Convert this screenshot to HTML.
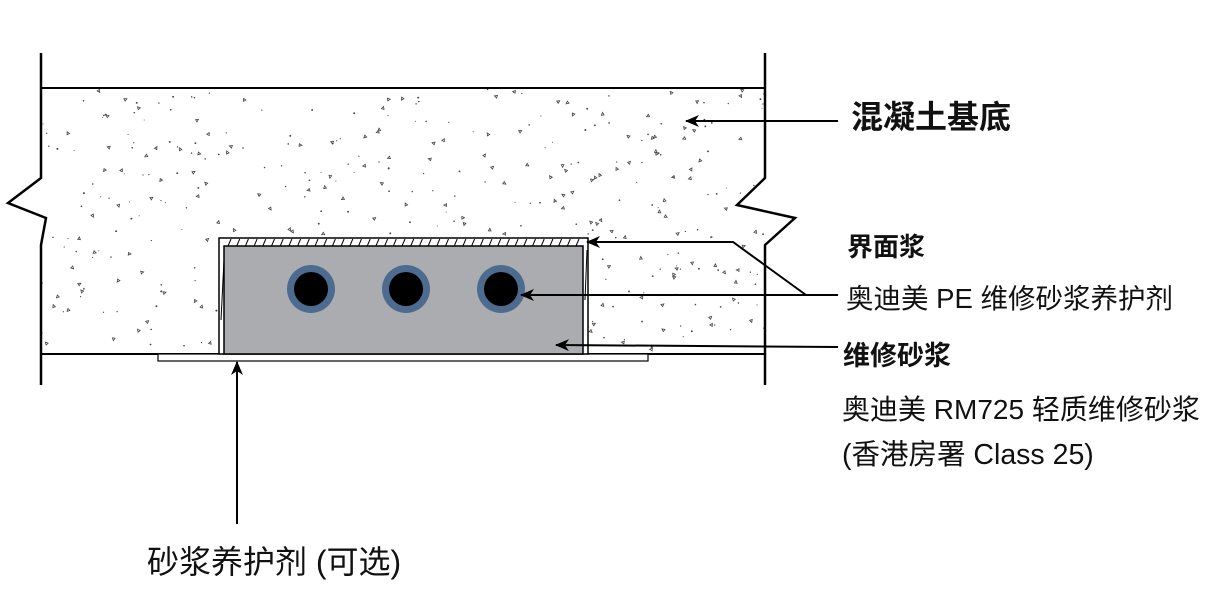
<!DOCTYPE html>
<html><head><meta charset="utf-8"><style>
body{margin:0;background:#fff;width:1222px;height:589px;overflow:hidden}
svg{position:absolute;left:0;top:0}
.t{position:absolute;font-family:"Liberation Sans","Noto Sans CJK SC",sans-serif;color:#111;white-space:nowrap;line-height:1}
.b{font-weight:bold}
</style></head><body>
<svg width="1222" height="589" id="s">
<defs><marker id="a" markerWidth="14" markerHeight="12" refX="13" refY="6" orient="auto" markerUnits="userSpaceOnUse"><path d="M0,0 L14,6 L0,12 L4,6Z" fill="#000"/></marker>
<clipPath id="c"><path d="M41,88 H765 V178 L737,205 L795,218 L765,245 V354 H588 V238 H219 V354 H41 V245 L46,218 L8,203 L41,178Z"/></clipPath></defs>
<g id="dots" clip-path="url(#c)"></g>
<path d="M41,53 V178 L8,203 L46,218 L41,245 V385" fill="none" stroke="#000" stroke-width="2.5"/>
<path d="M765,53 V178 L737,205 L795,218 L765,245 V385" fill="none" stroke="#000" stroke-width="2.5"/>
<line x1="41" y1="88" x2="765" y2="88" stroke="#000" stroke-width="2"/>
<line x1="41" y1="354" x2="765" y2="354" stroke="#000" stroke-width="2"/>
<rect x="158" y="354" width="490" height="7" fill="#fff" stroke="#000" stroke-width="1.2"/>
<rect x="219" y="238" width="369" height="116" fill="#fff" stroke="#000" stroke-width="1.5"/>
<g id="h" stroke="#000" stroke-width="1"></g>
<rect x="224" y="246" width="359" height="108" fill="#abacaf" stroke="#000" stroke-width="1.5"/>
<g fill="#4d6b8f"><circle cx="311" cy="289" r="24"/><circle cx="406" cy="289" r="24"/><circle cx="501" cy="289" r="24"/></g>
<g fill="#000"><circle cx="311" cy="289" r="17"/><circle cx="406" cy="289" r="17"/><circle cx="501" cy="289" r="17"/></g>
<g stroke="#000" stroke-width="2" fill="none">
<line x1="838" y1="121" x2="686" y2="121" marker-end="url(#a)"/>
<polyline points="806,295 733,242 587,242" marker-end="url(#a)"/>
<line x1="838" y1="295" x2="521" y2="295" marker-end="url(#a)"/>
<line x1="838" y1="347" x2="556" y2="345" marker-end="url(#a)"/>
<line x1="237" y1="524" x2="237" y2="362" marker-end="url(#a)"/>
</g>
</svg>
<div class="t b" style="left:851px;top:101px;font-size:32px">混凝土基底</div>
<div class="t b" style="left:847px;top:234px;font-size:26px">界面浆</div>
<div class="t" style="left:846px;top:285px;font-size:27.5px">奥迪美 PE 维修砂浆养护剂</div>
<div class="t b" style="left:843px;top:343px;font-size:27px">维修砂浆</div>
<div class="t" style="left:842px;top:396px;font-size:28px">奥迪美 RM725 轻质维修砂浆</div>
<div class="t" style="left:842px;top:441px;font-size:28.5px">(香港房署 Class 25)</div>
<div class="t" style="left:147px;top:546px;font-size:32px">砂浆养护剂 (可选)</div>
<script>
var g=document.getElementById('dots'),s=7,h='';
function r(){s=(s*16807)%2147483647;return s/2147483647;}
for(var i=0;i<480;i++){var x=42+r()*755,y=89+r()*265,k=r();
if(k<0.6)h+='<circle cx="'+x+'" cy="'+y+'" r="'+(0.5+r()*0.5)+'" fill="#444"/>';
else{var a=r()*6.28,d=3;h+='<path d="M'+x+','+y+' l'+(d*Math.cos(a))+','+(d*Math.sin(a))+' l'+(d*Math.cos(a+2.2))+','+(d*Math.sin(a+2.2))+'z" fill="none" stroke="#444" stroke-width="0.8"/>';}}
g.innerHTML=h;
var hh='';for(var x=228;x<584;x+=8.7)hh+='<line x1="'+x+'" y1="246" x2="'+(x+3)+'" y2="239"/>';
hh+='<line x1="221" y1="320" x2="224" y2="260"/><line x1="585" y1="300" x2="587" y2="250"/>';
document.getElementById('h').innerHTML=hh;
</script>
</body></html>
